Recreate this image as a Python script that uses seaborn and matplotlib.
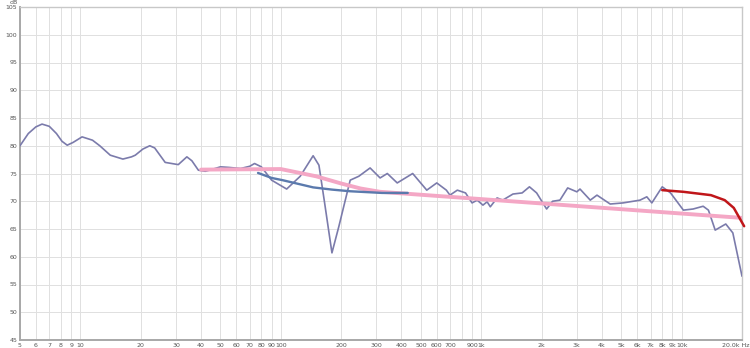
import matplotlib
matplotlib.use("Agg")
import matplotlib.pyplot as plt
import matplotlib.transforms as mtransforms
import seaborn as sns
import pandas as pd

sns.set_theme(style="white")
plt.rcParams['font.family'] = ['DejaVu Sans']

# Measured response (purple)
meas_freq = [5, 5.5, 6.0, 6.44, 7.0, 7.6, 8.1, 8.6, 9.2, 10.2, 11.5, 12.5, 14.1, 16.3, 18.0,
             18.8, 20.5, 22.2, 23.5, 26.5, 30.8, 34, 36, 38.8, 42, 46, 50, 55, 63, 70, 74,
             80, 90, 107, 125, 145, 155, 165, 180, 195, 204, 222, 245, 279, 313, 340, 381,
             455, 535, 600, 670, 698, 760, 835, 900, 955, 1020, 1070, 1110, 1200, 1280,
             1440, 1600, 1740, 1890, 2120, 2270, 2470, 2700, 3000, 3110, 3500, 3780, 4400,
             5100, 6200, 6700, 7100, 8000, 8800, 10200, 11400, 12800, 13600, 14700, 16600,
             18000, 20000]
meas_db = [80.0, 82.2, 83.4, 83.9, 83.5, 82.2, 80.8, 80.1, 80.6, 81.6, 81.0, 80.0, 78.3, 77.6,
           78.0, 78.3, 79.4, 80.0, 79.6, 77.0, 76.6, 78.0, 77.3, 75.6, 75.4, 75.8, 76.2, 76.1,
           75.9, 76.3, 76.8, 76.2, 73.8, 72.2, 74.5, 78.2, 76.5, 70.0, 60.7, 65.5, 68.4, 73.8,
           74.5, 76.0, 74.2, 75.0, 73.3, 75.0, 72.0, 73.3, 72.0, 71.1, 72.0, 71.5, 69.7, 70.2,
           69.3, 69.9, 69.0, 70.6, 70.2, 71.3, 71.5, 72.6, 71.5, 68.6, 70.0, 70.2, 72.4, 71.7,
           72.2, 70.2, 71.1, 69.5, 69.7, 70.2, 70.8, 69.7, 72.6, 71.5, 68.4, 68.6, 69.1, 68.4,
           64.8, 65.9, 64.3, 56.5]

# Target curve (pink)
target_freq = [40, 100, 150, 200, 250, 313, 20000]
target_db = [75.7, 75.8, 74.5, 73.2, 72.3, 71.7, 67.0]

# Low shelf (blue)
blue_freq = [77, 90, 102, 145, 180, 222, 320, 430]
blue_db = [75.1, 74.2, 73.8, 72.5, 72.1, 71.8, 71.5, 71.5]

# High roll-off (red)
red_freq = [8000, 10200, 14000, 16400, 18200, 19700, 20500]
red_db = [72.0, 71.7, 71.1, 70.2, 68.8, 66.6, 65.5]

x_ticks = [5, 6, 7, 8, 9, 10, 20, 30, 40, 50, 60, 70, 80, 90, 100, 200, 300, 400, 500,
           600, 700, 800, 900, 1000, 2000, 3000, 4000, 5000, 6000, 7000, 8000, 9000,
           10000, 20000]
x_labels = ["5", "6", "7", "8", "9", "10", "20", "30", "40", "50", "60", "70", "80", "90",
            "100", "200", "300", "400", "500", "600", "700", "", "900", "1k", "2k", "3k",
            "4k", "5k", "6k", "7k", "8k", "9k", "10k", "20.0k Hz"]
y_ticks = [45, 50, 55, 60, 65, 70, 75, 80, 85, 90, 95, 100, 105]

fig = plt.figure(figsize=(7.5, 3.48), dpi=100)
ax = fig.add_axes([20/750, 1 - 340/348, 722/750, 333/348])

df_meas = pd.DataFrame({"f": meas_freq, "db": meas_db})
df_target = pd.DataFrame({"f": target_freq, "db": target_db})
df_blue = pd.DataFrame({"f": blue_freq, "db": blue_db})
df_red = pd.DataFrame({"f": red_freq, "db": red_db})

sns.lineplot(data=df_meas, x="f", y="db", ax=ax, color="#7b7bab", linewidth=1.2,
             sort=False, zorder=3)
sns.lineplot(data=df_target, x="f", y="db", ax=ax, color="#f4a7c5", linewidth=2.8,
             sort=False, zorder=4)
sns.lineplot(data=df_blue, x="f", y="db", ax=ax, color="#5b7aad", linewidth=1.7,
             sort=False, zorder=5)
sns.lineplot(data=df_red, x="f", y="db", ax=ax, color="#c0161a", linewidth=1.8,
             sort=False, zorder=6, clip_on=False)

ax.set_xscale("log")
ax.set_xlim(5, 20000)
ax.set_ylim(45, 105)
ax.set_xticks(x_ticks)
ax.set_xticklabels(x_labels)
ax.minorticks_off()
ax.set_yticks(y_ticks)
ax.set_yticklabels([str(v) for v in y_ticks])
ax.tick_params(axis="both", labelsize=4.5, colors="#555555", length=0, pad=2)
ax.grid(True, which="major", color="#e0e0e0", linewidth=0.7)
ax.set_xlabel("")
ax.set_ylabel("")
for side in ["left", "bottom"]:
    ax.spines[side].set_color("#a8a8a8")
    ax.spines[side].set_linewidth(1.4)
for side in ["top", "right"]:
    ax.spines[side].set_color("#c8c8c8")
    ax.spines[side].set_linewidth(1.0)

# keep last tick label inside the figure
last = ax.get_xticklabels()[-1]
last.set_horizontalalignment("right")
last.set_transform(last.get_transform() + mtransforms.ScaledTranslation(7/100, 0, fig.dpi_scale_trans))

ax.text(-0.003, 1.005, "dB", transform=ax.transAxes, fontsize=4.5, color="#555555",
        ha="right", va="bottom")

fig.savefig("out.png", dpi=100)
